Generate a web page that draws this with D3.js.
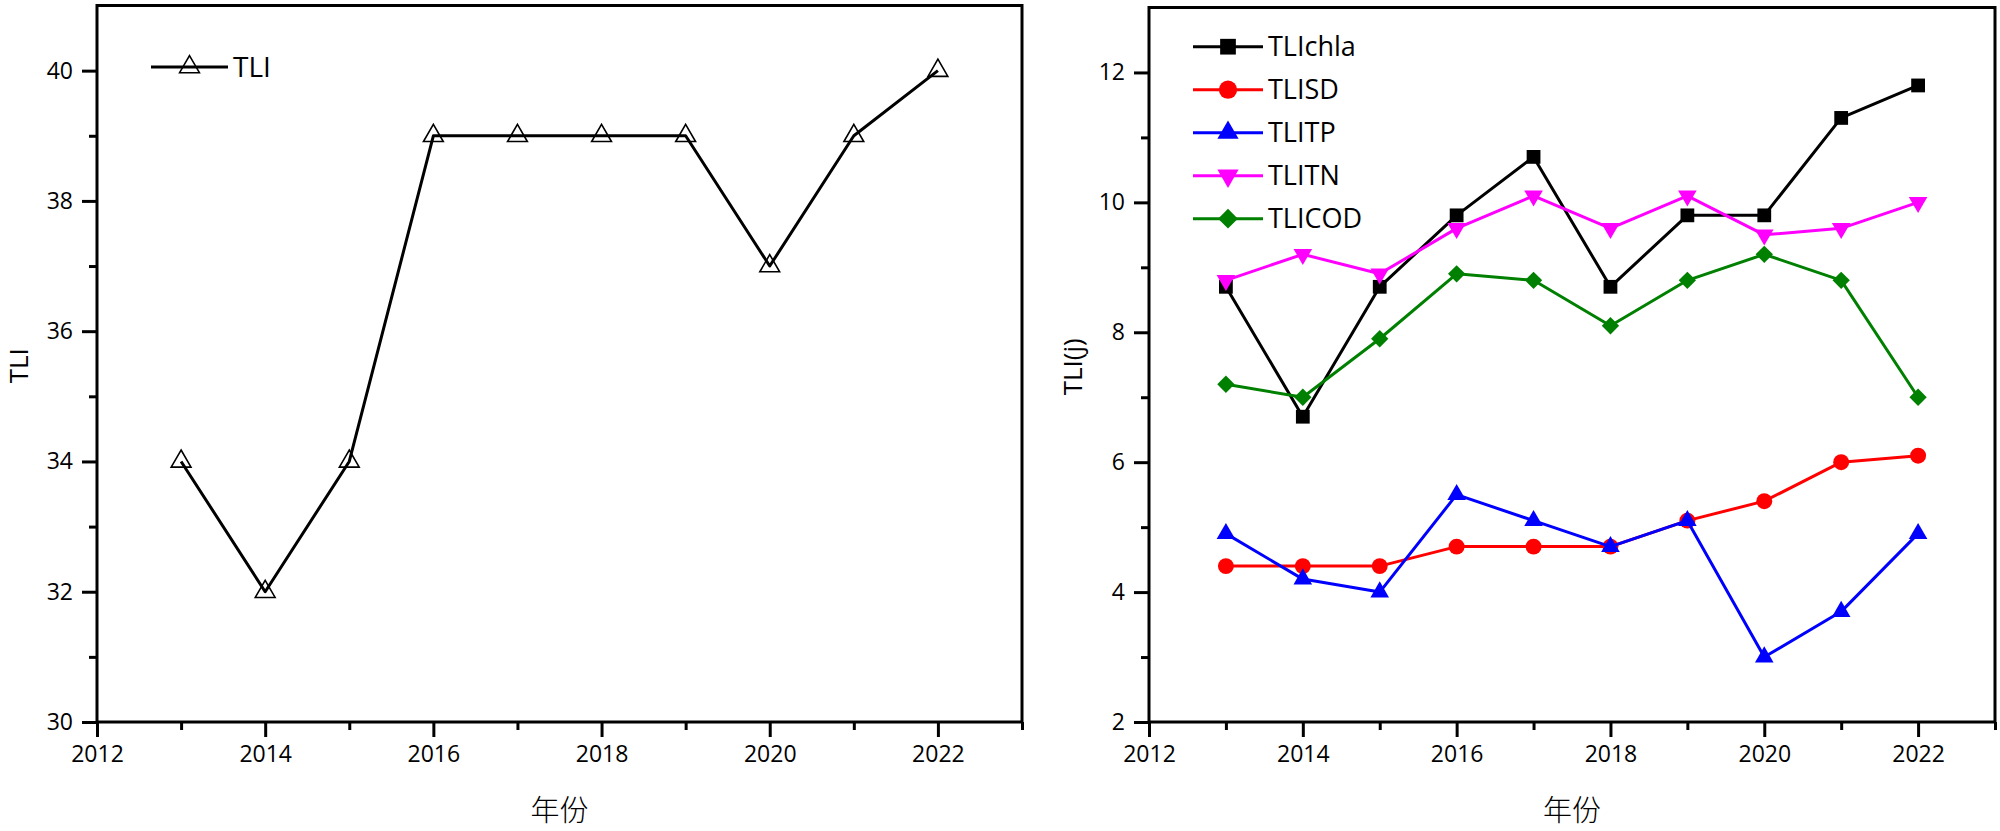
<!DOCTYPE html>
<html>
<head>
<meta charset="utf-8">
<script src="https://cdn.jsdelivr.net/npm/d3@7"></script>
<style>
  html, body { margin: 0; padding: 0; background: #fff; }
  svg { display: block; }
  .tick text { font-family: "Open Sans", sans-serif; }
</style>
</head>
<body>
<svg id="chart"></svg>
<script>
// ---- data ----
const years = [2013, 2014, 2015, 2016, 2017, 2018, 2019, 2020, 2021, 2022];
const tli = [34, 32, 34, 39, 39, 39, 39, 37, 39, 40];

const seriesNames = ["TLIchla", "TLISD", "TLITP", "TLITN", "TLICOD"];
const tliChla = [8.7, 6.7, 8.7, 9.8, 10.7, 8.7, 9.8, 9.8, 11.3, 11.8];
const tliSD   = [4.4, 4.4, 4.4, 4.7, 4.7, 4.7, 5.1, 5.4, 6.0, 6.1];
const tliTP   = [4.9, 4.2, 4.0, 5.5, 5.1, 4.7, 5.1, 3.0, 3.7, 4.9];
const tliTN   = [8.8, 9.2, 8.9, 9.6, 10.1, 9.6, 10.1, 9.5, 9.6, 10.0];
const tliCOD  = [7.2, 7.0, 7.9, 8.9, 8.8, 8.1, 8.8, 9.2, 8.8, 7.0];

const xMajorTicks = [2012, 2014, 2016, 2018, 2020, 2022];
const xMinorTicks = [2013, 2015, 2017, 2019, 2021, 2023];
const leftMajorTicks = [30, 32, 34, 36, 38, 40];
const leftMinorTicks = [31, 33, 35, 37, 39];
const rightMajorTicks = [2, 4, 6, 8, 10, 12];
const rightMinorTicks = [3, 5, 7, 9, 11];

const xLabel = "年份";

const svg = d3.select("#chart")
    .attr("width", 2000)
    .attr("height", 831);

class LinePanel {

    constructor( config, series ) {
        this.config = {
            left: config.left,
            right: config.right,
            top: config.top,
            bottom: config.bottom,
            xdomain: config.xdomain,
            ydomain: config.ydomain,
            yMajor: config.yMajor,
            yMinor: config.yMinor,
            ylabel: config.ylabel,
            ylabelX: config.ylabelX,
            legend: config.legend,
        }
        this.series = series;
        this.init();
    }

    init() {
        let self = this;
        const c = self.config;

        self.g = svg.append("g");

        self.xscale = d3.scaleLinear()
            .domain( c.xdomain )
            .range( [c.left, c.right] );

        self.yscale = d3.scaleLinear()
            .domain( c.ydomain )
            .range( [c.bottom, c.top] );

        self.render();
    }

    render() {
        let self = this;
        const c = self.config;

        // axes: major ticks with labels, minor ticks without
        const xmajor = d3.axisBottom( self.xscale )
            .tickValues( xMajorTicks )
            .tickFormat( d3.format("d") )
            .tickSize(15)
            .tickPadding(9);
        const xminor = d3.axisBottom( self.xscale )
            .tickValues( xMinorTicks )
            .tickFormat("")
            .tickSize(8);
        const ymajor = d3.axisLeft( self.yscale )
            .tickValues( c.yMajor )
            .tickFormat( d3.format("d") )
            .tickSize(15)
            .tickPadding(9);
        const yminor = d3.axisLeft( self.yscale )
            .tickValues( c.yMinor )
            .tickFormat("")
            .tickSize(8);

        [[xmajor, `translate(0, ${c.bottom})`], [xminor, `translate(0, ${c.bottom})`],
         [ymajor, `translate(${c.left}, 0)`], [yminor, `translate(${c.left}, 0)`]]
            .forEach( ([ax, tr]) => {
                const g = self.g.append("g")
                    .attr("transform", tr)
                    .call( ax );
                g.select(".domain").remove();
                g.selectAll(".tick line")
                    .attr("stroke", "#000")
                    .attr("stroke-width", 3);
                g.selectAll(".tick text")
                    .attr("fill", "#000")
                    .attr("font-size", "23px");
            });

        // frame
        self.g.append("rect")
            .attr("x", c.left)
            .attr("y", c.top)
            .attr("width", c.right - c.left)
            .attr("height", c.bottom - c.top)
            .attr("fill", "none")
            .attr("stroke", "#000")
            .attr("stroke-width", 3);

        // axis titles
        self.g.append("text")
            .attr("transform", `translate(${c.ylabelX}, ${(c.top + c.bottom) / 2 + 2}) rotate(-90)`)
            .attr("text-anchor", "middle")
            .attr("font-family", "'Open Sans', sans-serif")
            .attr("font-size", "26px")
            .attr("fill", "#000")
            .text( c.ylabel );

        self.g.append("text")
            .attr("x", (c.left + c.right) / 2)
            .attr("y", 821)
            .attr("text-anchor", "middle")
            .attr("font-family", "'Noto Sans CJK SC', sans-serif")
            .attr("font-weight", 300)
            .attr("font-size", "29px")
            .attr("fill", "#000")
            .text( xLabel );

        // lines and markers
        const line = d3.line()
            .x( (d, i) => self.xscale( years[i] ) )
            .y( d => self.yscale( d ) );

        self.series.forEach( s => {
            self.g.append("path")
                .datum( s.values )
                .attr("fill", "none")
                .attr("stroke", s.color)
                .attr("stroke-width", 3)
                .attr("stroke-linejoin", "round")
                .attr("d", line);

            self.g.selectAll(null)
                .data( s.values )
                .enter()
                .append("path")
                .attr("transform", (d, i) => `translate(${self.xscale( years[i] )}, ${self.yscale( d )}) rotate(${s.rotate || 0})`)
                .attr("d", d3.symbol().type( s.symbol ).size( s.size ))
                .attr("fill", s.open ? "none" : s.color)
                .attr("stroke", s.open ? s.color : "none")
                .attr("stroke-width", s.open ? 1.6 : 0);
        });

        // legend
        const lg = c.legend;
        self.series.forEach( (s, i) => {
            const y = lg.y + i * lg.step;
            const row = self.g.append("g");
            row.append("line")
                .attr("x1", lg.x)
                .attr("x2", lg.x + lg.len)
                .attr("y1", y)
                .attr("y2", y)
                .attr("stroke", s.color)
                .attr("stroke-width", 3);
            row.append("path")
                .attr("transform", `translate(${lg.x + lg.len / 2}, ${y}) rotate(${s.rotate || 0})`)
                .attr("d", d3.symbol().type( s.symbol ).size( s.size * (lg.markerScale || 1) ))
                .attr("fill", s.open ? "none" : s.color)
                .attr("stroke", s.open ? s.color : "none")
                .attr("stroke-width", s.open ? 1.6 : 0);
            row.append("text")
                .attr("x", lg.x + lg.len + 5)
                .attr("y", y)
                .attr("dy", "0.36em")
                .attr("font-family", "'Open Sans', sans-serif")
                .attr("font-size", lg.fontSize)
                .attr("fill", "#000")
                .text( s.name );
        });
    }
}

// left panel
new LinePanel({
    left: 97, right: 1022, top: 5.5, bottom: 722,
    xdomain: [2012, 2023], ydomain: [30, 41],
    yMajor: leftMajorTicks, yMinor: leftMinorTicks,
    ylabel: "TLI", ylabelX: 28,
    legend: { x: 151, y: 67, step: 0, len: 77, fontSize: "28px" },
}, [
    { name: "TLI", values: tli, color: "#000", symbol: d3.symbolTriangle, size: 170, open: true },
]);

// right panel
const rightColors = ["#000000", "#ff0000", "#0000ff", "#ff00ff", "#008000"];
const rightValues = [tliChla, tliSD, tliTP, tliTN, tliCOD];
const rightSymbols = [
    { symbol: d3.symbolSquare, size: 190, rotate: 0 },
    { symbol: d3.symbolCircle, size: 200, rotate: 0 },
    { symbol: d3.symbolTriangle, size: 150, rotate: 0 },
    { symbol: d3.symbolTriangle, size: 150, rotate: 180 },
    { symbol: d3.symbolSquare, size: 150, rotate: 45 },
];

new LinePanel({
    left: 1149, right: 1995, top: 7.5, bottom: 722,
    xdomain: [2012, 2023], ydomain: [2, 13],
    yMajor: rightMajorTicks, yMinor: rightMinorTicks,
    ylabel: "TLI(j)", ylabelX: 1082,
    legend: { x: 1193, y: 46.7, step: 43, len: 70, fontSize: "27px", markerScale: 1.3 },
}, seriesNames.map( (name, i) => ({
    name: name,
    values: rightValues[i],
    color: rightColors[i],
    symbol: rightSymbols[i].symbol,
    size: rightSymbols[i].size,
    rotate: rightSymbols[i].rotate,
})));
</script>
</body>
</html>
